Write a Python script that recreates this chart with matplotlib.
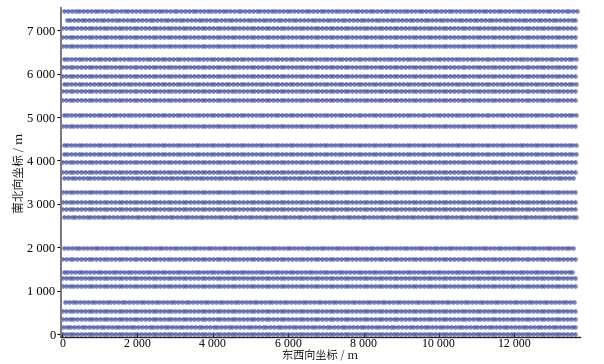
import numpy as np
import matplotlib.pyplot as plt

# ---------------------- DATA ----------------------
# north-south coordinate of every receiver line (m)
line_y = [0, 175, 352, 540, 750, 1110, 1290, 1425, 1740, 1975,
          2690, 2875, 3050, 3275, 3600, 3745, 3960, 4145, 4350,
          4800, 5050, 5385, 5600, 5770, 5940, 6150, 6345,
          6645, 6846, 7048, 7230, 7432]
# first / last station of each line (m) and station interval (m)
line_x_start = [0, 20, 0, 0, 80, 0, 0, 40, 0, 60,
                50, 0, 0, 0, 50, 0, 0, 40, 40,
                0, 40, 0, 0, 40, 0, 0, 40,
                0, 0, 0, 120, 60]
line_x_end = [13640, 13620, 13660, 13650, 13640, 13660, 13600, 13620, 13640, 13650,
              13660, 13640, 13650, 13620, 13640, 13660, 13650, 13640, 13650,
              13660, 13640, 13650, 13620, 13640, 13660, 13650, 13640,
              13660, 13650, 13640, 13620, 13660]
station_step = 100

xticks = [0, 2000, 4000, 6000, 8000, 10000, 12000]
yticks = [0, 1000, 2000, 3000, 4000, 5000, 6000, 7000]

num_font = ['Liberation Serif', 'Noto Sans CJK SC']
cjk_font = ['Noto Serif CJK SC', 'Noto Sans CJK SC', 'Liberation Serif']

# ---------------------- PLOT ----------------------
fig = plt.figure(figsize=(6.04, 3.64), dpi=100)
ax = fig.add_axes([0.101, 0.075, 0.859, 0.902])

for y, x0, x1 in zip(line_y, line_x_start, line_x_end):
    xs = np.arange(x0, x1 + 1, station_step)
    ax.plot(xs, np.full(len(xs), y), color='#a9b0d9', lw=1.6, zorder=1)
    ax.plot(xs, np.full(len(xs), y), linestyle='none', marker='o', ms=3.4,
            mew=0, color='#4150a3', alpha=0.65, zorder=2)

ax.set_xlim(-30, 13740)
ax.set_ylim(-55, 7500)

ax.set_xticks(xticks)
ax.set_xticklabels([f"{v:,}".replace(',', ' ') for v in xticks], family=num_font, fontsize=8.5)
ax.set_yticks(yticks)
ax.set_yticklabels([f"{v:,}".replace(',', ' ') for v in yticks], family=num_font, fontsize=9)
ax.tick_params(axis='x', direction='in', length=3, pad=1)
ax.tick_params(axis='y', direction='out', length=3, pad=1)

ax.spines['top'].set_visible(False)
ax.spines['right'].set_visible(False)
ax.spines['left'].set_color('#777777')
ax.spines['left'].set_linewidth(1.4)
ax.spines['bottom'].set_color('#222222')
ax.spines['bottom'].set_linewidth(1.0)

ax.set_xlabel("东西向坐标 / m", family=cjk_font, fontsize=8)
ax.xaxis.set_label_coords(0.5, -0.043)
ax.set_ylabel("南北向坐标 / m", family=cjk_font, fontsize=8.5, labelpad=1)

plt.savefig("out.png", dpi=100)
